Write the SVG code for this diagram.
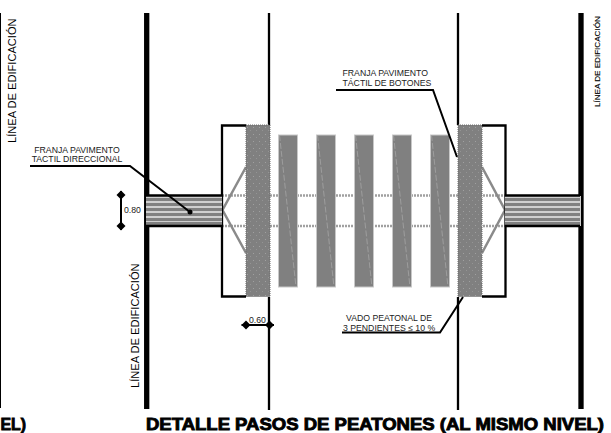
<svg xmlns="http://www.w3.org/2000/svg" width="611" height="433" viewBox="0 0 611 433">
<defs>
<style>
text{font-family:"Liberation Sans",Arial,sans-serif;fill:#222}
.s{font-size:8.7px}
.v{font-size:11.1px;fill:#000}
.vs{font-size:8.1px;fill:#000;stroke:#000;stroke-width:.15}
.t{font-size:17px;font-weight:bold;fill:#000;stroke:#000;stroke-width:.9}
.k{stroke:#000;fill:none;stroke-width:2.300}
.h{stroke:#000;fill:none;stroke-width:5.300}
.m{stroke:#000;fill:none;stroke-width:2}
.d{stroke:#a0a0a0;stroke-width:2.500;stroke-dasharray:2 1;fill:none}
.g{stroke:#8a8a8a;stroke-width:2.500;fill:none}
.b{fill:#808080;stroke:#6a6a6a;stroke-width:1;stroke-dasharray:1 1}
.sb{fill:#808080;stroke:#c8c8c8;stroke-width:1}
.sl{stroke:#a4a4a4;stroke-width:.8;stroke-dasharray:6 2;fill:none}
.ls{stroke:#808080;stroke-width:3.200}
</style>
<pattern id="dots" width="6" height="7" patternUnits="userSpaceOnUse">
<rect x="1" y="1" width="1" height="1" fill="#a0a0a0"/><rect x="4" y="4" width="1" height="1" fill="#949494"/>
</pattern>
<path id="dia" d="M0-4.500 4.500 0 0 4.500-4.500 0Z" fill="#000"/>
</defs>

<g id="lines">
<path class="h" d="M146.700 13V409M581 13V409"/>
<path class="k" d="M269 13V125M269 297V410M458 13V125M458 297V410"/>
<path stroke="#000" stroke-width="1" fill="none" d="M.5 13V408"/>
</g>

<g id="dotted">
<path class="d" d="M222 195.500H505M222 226H505"/>
</g>

<g id="walk-stripes">
<rect class="sb" x="278.500" y="135" width="19" height="152"/>
<rect class="sb" x="316.500" y="135" width="19" height="152"/>
<rect class="sb" x="354.500" y="135" width="19" height="152"/>
<rect class="sb" x="392.500" y="135" width="19" height="152"/>
<rect class="sb" x="430.500" y="135" width="19" height="152"/>
<path class="sl" d="M279.500 135 296 287M317.500 135 334 287M355.500 135 372 287M393.500 135 410 287M431.500 135 448 287"/>
</g>

<g id="ramp-left"><path class="g" d="M246 167 222.500 210 246 253"/></g>
<g id="ramp-right"><path class="g" d="M482 167 505 210 482 253"/></g>

<g id="strip-left">
<rect class="b" x="246" y="125" width="24" height="171.500"/>
<rect x="246" y="125" width="24" height="171" fill="url(#dots)"/>
</g>
<g id="strip-right">
<rect class="b" x="458" y="125" width="24" height="171.500"/>
<rect x="458" y="125" width="24" height="171" fill="url(#dots)"/>
</g>

<g id="box-left"><path class="k" d="M246 125.500H222V296.500H246"/></g>
<g id="box-right"><path class="k" d="M482 125.500H505.500V296.500H482"/></g>

<g id="band-left">
<rect x="146" y="196" width="76" height="30" fill="#cfcfcf"/>
<path class="ls" d="M146 199.500H222M146 204.500H222M146 209.500H222M146 214.500H222M146 219.500H222M146 223.500H222"/>
<path class="k" d="M146 195.500H222M146 226H222"/>
</g>
<g id="band-right">
<rect x="505" y="196" width="76" height="30" fill="#cfcfcf"/>
<path class="ls" d="M505 199.500H580M505 204.500H580M505 209.500H580M505 214.500H580M505 219.500H580M505 223.500H580"/>
<path class="k" d="M505 195.500H580M505 226H580"/>
</g>

<g id="connectors">
<path class="m" d="M30 166H130L190 212"/>
<circle cx="190" cy="212" r="2.500" fill="#000"/>
<path class="m" d="M336 90H433L457 157"/>
<path class="m" d="M342 332.500H440L463 297"/>
<path class="m" d="M121 191V230"/>
<use href="#dia" x="121" y="195"/><use href="#dia" x="121" y="226"/>
<path class="m" d="M241.500 325H274"/>
<use href="#dia" x="246" y="325"/><use href="#dia" x="269.500" y="325"/>
</g>

<g id="label-direccional">
<text class="s" x="77" y="153" text-anchor="middle">FRANJA PAVIMENTO</text>
<text class="s" x="77" y="162" text-anchor="middle">TACTIL DIRECCIONAL</text>
</g>
<g id="label-botones">
<text class="s" x="342.500" y="76">FRANJA  PAVIMENTO</text>
<text class="s" x="342.500" y="86">TÁCTIL DE BOTONES</text>
</g>
<g id="label-vado">
<text class="s" x="346" y="321">VADO PEATONAL DE</text>
<text class="s" x="343" y="331">3 PENDIENTES ≤ 10 %</text>
</g>
<text class="s" x="124" y="213">0.80</text>
<text class="s" x="249" y="323">0.60</text>

<text class="v" transform="translate(16,143) rotate(-90)">LÍNEA DE EDIFICACIÓN</text>
<text class="v" transform="translate(139,388) rotate(-90)">LÍNEA DE EDIFICACIÓN</text>
<text class="vs" transform="translate(599.500,107) rotate(-90)">LÍNEA DE EDIFICACIÓN</text>

<text class="t" x="146" y="430" textLength="458" lengthAdjust="spacingAndGlyphs">DETALLE PASOS DE PEATONES (AL MISMO NIVEL)</text>
<text class="t" x="0.500" y="430" textLength="25.500" lengthAdjust="spacingAndGlyphs">EL)</text>
</svg>
